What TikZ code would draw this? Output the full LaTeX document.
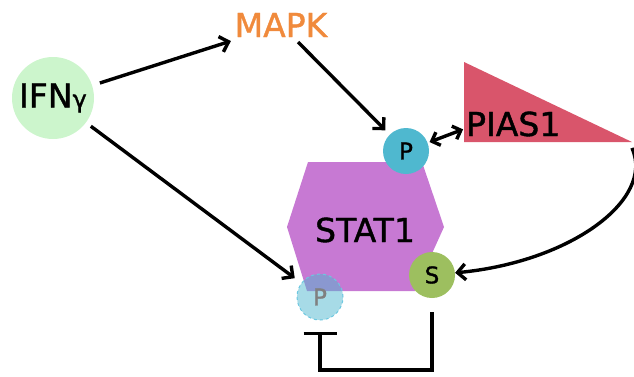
\documentclass[tikz,border=0pt]{standalone}
\usepackage{fontspec}
\setmainfont{DejaVu Sans}[FakeBold=1.2]
\usetikzlibrary{arrows.meta,shapes.geometric}
\definecolor{ifngreen}{HTML}{CCF5CC}
\definecolor{mapkorange}{HTML}{F08A3C}
\definecolor{pblue}{HTML}{4FB8CF}
\definecolor{piasred}{HTML}{D9556B}
\definecolor{statpurple}{HTML}{C779D3}
\definecolor{sgreen}{HTML}{9DBF5F}
\definecolor{pdash}{HTML}{6CC7E0}
\tikzset{
  bigtext/.style={font=\fontsize{33}{35}\selectfont, inner sep=2pt},
  smalltext/.style={font=\fontsize{23}{25}\selectfont},
  arr/.style={line width=3.4pt, -{Straight Barb[length=8pt,width=16pt,line width=3.4pt]}},
  dbl/.style={line width=3.4pt, {Straight Barb[length=7pt,width=14pt]}-{Straight Barb[length=7pt,width=14pt]}},
  inh/.style={line width=3.4pt, -{Bar[width=33pt,line width=3.4pt]}},
  ball/.style={circle, minimum size=46pt, inner sep=0pt, smalltext}
}
\begin{document}
\begin{tikzpicture}[x=1pt,y=-1pt]
\useasboundingbox (0,0) rectangle (634,376);
% IFN
\node[circle, fill=ifngreen, minimum size=82pt, inner sep=0pt, bigtext] (ifn) at (53,98) {IFN{\fontsize{24}{26}\selectfont γ}};
% MAPK
\node[bigtext, text=mapkorange] (mapk) at (281,25) {MAPK};
% STAT1 hexagon
\fill[statpurple] (308,162) -- (422,162) -- (444,227) -- (415,291) -- (307,291) -- (287,227) -- cycle;
\node[bigtext] (stat) at (365,230) {STAT1};
% PIAS1 triangle
\coordinate (ptopv) at (464,62);
\coordinate (pbotv) at (464,142);
\coordinate (piastip) at (632,142);
\fill[piasred] (ptopv) -- (piastip) -- (pbotv) -- cycle;
\node[bigtext, anchor=west] (pias) at (464,124) {PIAS1};
\coordinate (piasl) at (464,129);
% balls
\node[ball, fill=pblue] (ptop) at (406,151) {P};
\node[ball, fill=sgreen] (s) at (432,275) {S};
\node[ball, fill=pblue, fill opacity=0.5, text opacity=1, text=gray, draw=pdash, dashed, line width=1pt] (pb) at (320,297) {P};
% arrows
\draw[arr, shorten <=8pt, shorten >=6pt] (ifn) -- (mapk);
\draw[arr, shorten <=4pt, shorten >=6pt] (mapk.-45) -- (ptop);
\draw[arr, shorten <=6pt, shorten >=8pt] (ifn) -- (pb);
\draw[dbl, shorten <=2pt, shorten >=1pt] (ptop) -- (piasl);
\draw[arr] ([yshift=-6pt]piastip) .. controls (655,200) and (570,262) .. (s);
% inhibition
\coordinate (lowline) at (0,370);
\draw[inh] (s.south) ++(0,14) |- (pb.south |- lowline) -- ++(0,-38);
\end{tikzpicture}
\end{document}
